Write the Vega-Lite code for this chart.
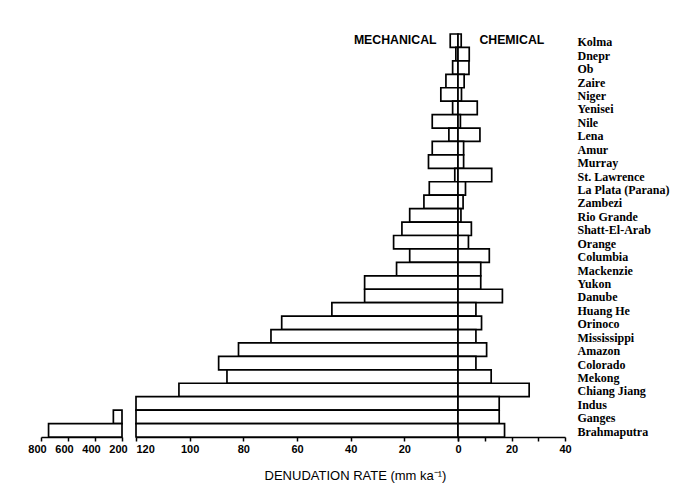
{
  "$schema": "https://vega.github.io/schema/vega-lite/v6.json",
  "background": "white",
  "padding": {"left": 27, "top": 33, "right": 5, "bottom": 5},
  "bounds": "flush",
  "spacing": 14,
  "config": {
    "view": {"stroke": null},
    "font": "Liberation Sans",
    "axis": {"labelColor": "black", "titleColor": "black", "domainColor": "black", "tickColor": "black", "grid": false, "domainWidth": 1.6, "tickWidth": 1.5, "tickSize": 4, "labelFont": "Liberation Sans", "labelFontSize": 11, "labelFontWeight": "bold", "labelOverlap": false, "zindex": 1}
  },
  "datasets": {
    "rivers": [
      {"river": "Kolma", "mechanical": 2.9, "chemical": 1.2},
      {"river": "Dnepr", "mechanical": 0.8, "chemical": 4.2},
      {"river": "Ob", "mechanical": 2.0, "chemical": 4.1},
      {"river": "Zaire", "mechanical": 4.5, "chemical": 2.3},
      {"river": "Niger", "mechanical": 6.4, "chemical": 1.3},
      {"river": "Yenisei", "mechanical": 2.0, "chemical": 7.2},
      {"river": "Nile", "mechanical": 9.6, "chemical": 0.9},
      {"river": "Lena", "mechanical": 3.4, "chemical": 8.2},
      {"river": "Amur", "mechanical": 9.6, "chemical": 2.1},
      {"river": "Murray", "mechanical": 11.0, "chemical": 2.1},
      {"river": "St. Lawrence", "mechanical": 1.2, "chemical": 12.6},
      {"river": "La Plata (Parana)", "mechanical": 10.7, "chemical": 2.8},
      {"river": "Zambezi", "mechanical": 12.7, "chemical": 1.9},
      {"river": "Rio Grande", "mechanical": 18.0, "chemical": 1.1},
      {"river": "Shatt-El-Arab", "mechanical": 20.9, "chemical": 5.0},
      {"river": "Orange", "mechanical": 24.0, "chemical": 3.9},
      {"river": "Columbia", "mechanical": 18.0, "chemical": 11.7},
      {"river": "Mackenzie", "mechanical": 22.9, "chemical": 8.5},
      {"river": "Yukon", "mechanical": 34.8, "chemical": 8.5},
      {"river": "Danube", "mechanical": 34.8, "chemical": 16.6},
      {"river": "Huang He", "mechanical": 47.0, "chemical": 6.7},
      {"river": "Orinoco", "mechanical": 65.7, "chemical": 8.8},
      {"river": "Mississippi", "mechanical": 69.7, "chemical": 6.7},
      {"river": "Amazon", "mechanical": 81.8, "chemical": 10.7},
      {"river": "Colorado", "mechanical": 89.2, "chemical": 6.7},
      {"river": "Mekong", "mechanical": 86.1, "chemical": 12.4},
      {"river": "Chiang Jiang", "mechanical": 104.0, "chemical": 26.6},
      {"river": "Indus", "mechanical": 150, "chemical": 15.4},
      {"river": "Ganges", "mechanical": 264, "chemical": 15.4},
      {"river": "Brahmaputra", "mechanical": 744, "chemical": 17.4}
    ]
  },
  "hconcat": [
    {
      "width": 81,
      "height": 403,
      "data": {"name": "rivers"},
      "transform": [{"filter": "datum.mechanical > 200"}],
      "mark": {"type": "bar", "fill": "white", "stroke": "black", "strokeWidth": 1.7},
      "encoding": {
        "y": {"field": "river", "type": "nominal", "sort": null,
          "scale": {"domain": ["Kolma","Dnepr","Ob","Zaire","Niger","Yenisei","Nile","Lena","Amur","Murray","St. Lawrence","La Plata (Parana)","Zambezi","Rio Grande","Shatt-El-Arab","Orange","Columbia","Mackenzie","Yukon","Danube","Huang He","Orinoco","Mississippi","Amazon","Colorado","Mekong","Chiang Jiang","Indus","Ganges","Brahmaputra"], "paddingInner": 0, "paddingOuter": 0},
          "axis": null},
        "x": {"field": "mechanical", "type": "quantitative",
          "scale": {"domain": [200, 800], "reverse": true, "nice": false, "zero": false},
          "axis": {"values": [200, 400, 600, 800], "title": null, "labelFlush": false, "labelOverlap": false, "labelOffset": -4}},
        "x2": {"datum": 200}
      }
    },
    {
      "bounds": "flush",
      "spacing": 0,
      "hconcat": [
        {
          "width": 322,
          "height": 403,
          "data": {"name": "rivers"},
          "layer": [
            {
              "mark": {"type": "bar", "fill": "white", "stroke": "black", "strokeWidth": 1.7},
              "encoding": {
                "y": {"field": "river", "type": "nominal", "sort": null,
                  "scale": {"domain": ["Kolma","Dnepr","Ob","Zaire","Niger","Yenisei","Nile","Lena","Amur","Murray","St. Lawrence","La Plata (Parana)","Zambezi","Rio Grande","Shatt-El-Arab","Orange","Columbia","Mackenzie","Yukon","Danube","Huang He","Orinoco","Mississippi","Amazon","Colorado","Mekong","Chiang Jiang","Indus","Ganges","Brahmaputra"], "paddingInner": 0, "paddingOuter": 0},
                  "axis": null},
                "x": {"field": "mechanical", "type": "quantitative",
                  "scale": {"domain": [0, 120], "reverse": true, "clamp": true, "nice": false},
                  "axis": {"values": [0,10,20,30,40,50,60,70,80,90,100,110,120],
                    "labelExpr": "datum.value % 20 == 0 ? datum.label : ''",
                    "labelFlush": false, "labelOverlap": false,
                    "labelAlign": {"expr": "datum.value == 120 ? 'left' : 'center'"},
                    "title": "DENUDATION RATE  (mm ka⁻¹)",
                    "titleFont": "Liberation Sans", "titleFontSize": 13, "titleFontWeight": "normal",
                    "titleX": 219, "titleY": 32, "titleAlign": "center", "titleBaseline": "top"}},
                "x2": {"datum": 0}
              }
            },
            {
              "data": {"values": [{"label": "MECHANICAL"}]},
              "mark": {"type": "text", "align": "right", "baseline": "middle", "font": "Liberation Sans", "fontSize": 12.3, "fontWeight": "bold", "color": "black", "dy": -1},
              "encoding": {
                "text": {"field": "label"},
                "x": {"datum": 8},
                "y": {"datum": "Kolma"}
              }
            }
          ]
        },
        {
          "width": 107,
          "height": 403,
          "data": {"name": "rivers"},
          "layer": [
            {
              "mark": {"type": "bar", "fill": "white", "stroke": "black", "strokeWidth": 1.7},
              "encoding": {
                "y": {"field": "river", "type": "nominal", "sort": null,
                  "scale": {"domain": ["Kolma","Dnepr","Ob","Zaire","Niger","Yenisei","Nile","Lena","Amur","Murray","St. Lawrence","La Plata (Parana)","Zambezi","Rio Grande","Shatt-El-Arab","Orange","Columbia","Mackenzie","Yukon","Danube","Huang He","Orinoco","Mississippi","Amazon","Colorado","Mekong","Chiang Jiang","Indus","Ganges","Brahmaputra"], "paddingInner": 0, "paddingOuter": 0},
                  "axis": {"orient": "right", "title": null, "domain": false, "ticks": false, "labelPadding": 12, "labelFont": "Liberation Serif", "labelFontSize": 12, "labelFontWeight": "bold", "labelOffset": 1.5, "labelBaseline": "middle", "labelOverlap": false}},
                "x": {"field": "chemical", "type": "quantitative",
                  "scale": {"domain": [0, 40], "nice": false},
                  "axis": {"tickCount": 4,
                    "labelExpr": "datum.value == 20 || datum.value == 40 ? datum.label : ''",
                    "labelFlush": false, "labelOverlap": false, "title": null}},
                "x2": {"datum": 0}
              }
            },
            {
              "data": {"values": [{"label": "CHEMICAL"}]},
              "mark": {"type": "text", "align": "left", "baseline": "middle", "font": "Liberation Sans", "fontSize": 12.3, "fontWeight": "bold", "color": "black", "dy": -1},
              "encoding": {
                "text": {"field": "label"},
                "x": {"datum": 8},
                "y": {"datum": "Kolma"}
              }
            }
          ]
        }
      ]
    }
  ]
}
